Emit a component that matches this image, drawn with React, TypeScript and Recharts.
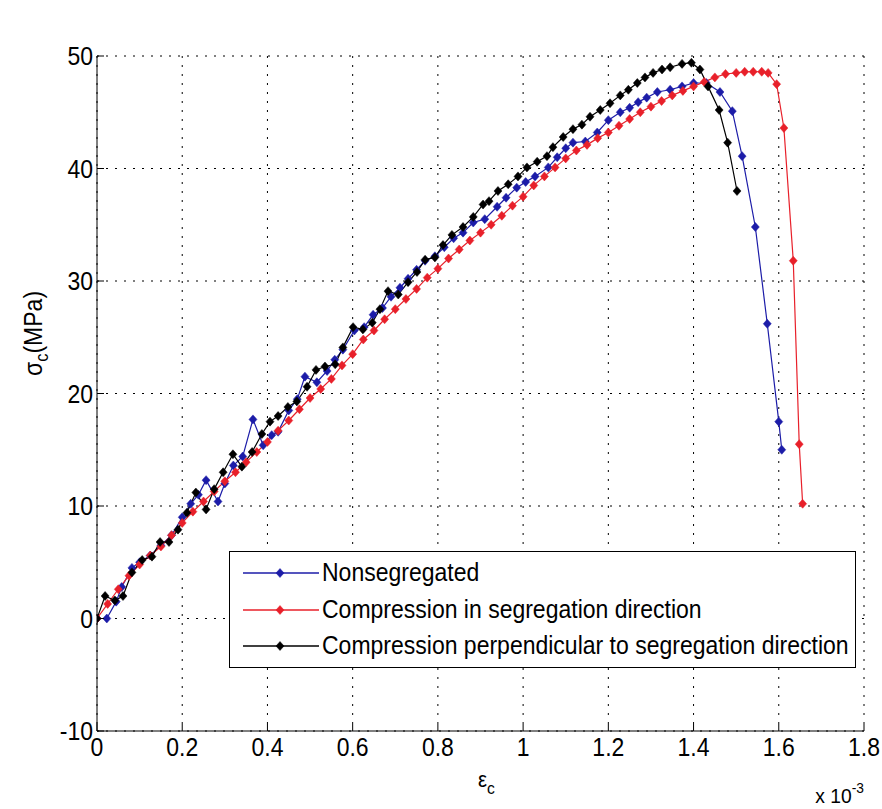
import { LineChart, Line, XAxis, YAxis, CartesianGrid, Legend, Label } from 'recharts'

// strain values are in units of 1e-3, stress in MPa
const nonsegStrain = [
  0, 0.023, 0.045, 0.058, 0.082, 0.1, 0.125, 0.15, 0.175, 0.2, 0.22, 0.238, 0.256, 0.284, 0.3, 0.32,
  0.342, 0.366, 0.39, 0.41, 0.425, 0.45, 0.47, 0.488, 0.516, 0.54, 0.558, 0.577, 0.604, 0.627, 0.648,
  0.67, 0.69, 0.711, 0.73, 0.75, 0.77, 0.793, 0.815, 0.837, 0.859, 0.883, 0.91, 0.939, 0.96, 0.985,
  1.006, 1.028, 1.059, 1.08, 1.1, 1.117, 1.146, 1.174, 1.2, 1.228, 1.25, 1.27, 1.29, 1.315, 1.345,
  1.373, 1.4, 1.43, 1.462, 1.491, 1.514, 1.545, 1.573, 1.6, 1.607,
]
const nonsegStress = [
  0, 0, 1.5, 2.8, 4.5, 5.0, 5.6, 6.5, 7.4, 9.0, 10.2, 11.0, 12.3, 10.4, 12.0, 13.6,
  14.4, 17.7, 15.4, 16.3, 16.6, 18.5, 19.5, 21.5, 21.0, 22.0, 23.0, 23.9, 25.6, 25.9, 27.0,
  27.6, 28.6, 29.4, 30.2, 31.0, 31.8, 32.2, 33.0, 33.8, 34.3, 35.2, 35.5, 36.6, 37.4, 38.3,
  38.8, 39.3, 40.1, 41.0, 41.8, 42.3, 42.4, 43.2, 44.3, 45.0, 45.4, 45.9, 46.3, 46.8, 47.0,
  47.3, 47.6, 47.6, 46.8, 45.1, 41.1, 34.8, 26.2, 17.5, 15.0,
]

const parallelStrain = [
  0, 0.025, 0.05, 0.075, 0.1, 0.125, 0.15, 0.175, 0.2, 0.225, 0.25, 0.275, 0.3, 0.325, 0.35, 0.375,
  0.4, 0.425, 0.45, 0.475, 0.5, 0.525, 0.55, 0.575, 0.6, 0.625, 0.65, 0.675, 0.7, 0.725, 0.75, 0.775,
  0.8, 0.825, 0.85, 0.875, 0.9, 0.925, 0.95, 0.975, 1.0, 1.025, 1.05, 1.075, 1.1, 1.125, 1.15, 1.175,
  1.2, 1.225, 1.25, 1.275, 1.3, 1.325, 1.35, 1.375, 1.4, 1.425, 1.45, 1.475, 1.5, 1.52, 1.54, 1.56,
  1.575, 1.595, 1.612, 1.634, 1.648, 1.656,
]
const parallelStress = [
  0, 1.3, 2.6, 3.8, 4.8, 5.6, 6.4, 7.4, 8.5, 9.5, 10.4, 11.3, 12.2, 13.0, 13.9, 14.8,
  15.7, 16.7, 17.6, 18.6, 19.6, 20.4, 21.3, 22.5, 23.5, 24.8, 25.6, 26.6, 27.5, 28.4, 29.3, 30.3,
  31.1, 32.0, 32.8, 33.6, 34.3, 35.0, 35.8, 36.7, 37.5, 38.5, 39.3, 40.1, 40.9, 41.6, 42.1, 42.7,
  43.2, 43.8, 44.4, 45.0, 45.5, 46.0, 46.5, 46.9, 47.3, 47.7, 48.1, 48.4, 48.5, 48.6, 48.6, 48.6,
  48.5, 47.5, 43.6, 31.8, 15.5, 10.2,
]

const perpStrain = [
  0, 0.019, 0.042, 0.061, 0.082, 0.106, 0.129, 0.148, 0.169, 0.19, 0.211, 0.232, 0.256, 0.275, 0.296,
  0.319, 0.34, 0.364, 0.387, 0.406, 0.425, 0.448, 0.469, 0.493, 0.514, 0.535, 0.559, 0.577, 0.601,
  0.624, 0.646, 0.664, 0.683, 0.707, 0.73, 0.751, 0.77, 0.793, 0.812, 0.833, 0.859, 0.883, 0.906,
  0.92, 0.941, 0.965, 0.988, 1.009, 1.033, 1.056, 1.07, 1.094, 1.117, 1.138, 1.157, 1.181, 1.204,
  1.228, 1.247, 1.268, 1.286, 1.305, 1.326, 1.345, 1.373, 1.395, 1.415, 1.434, 1.46, 1.48, 1.502,
]
const perpStress = [
  0, 2.0, 1.6, 2.0, 4.1, 5.2, 5.5, 6.8, 6.8, 7.9, 9.4, 11.2, 9.7, 11.5, 13.0,
  14.6, 13.5, 14.8, 16.4, 17.5, 18.0, 18.8, 19.3, 20.6, 22.1, 22.4, 22.6, 24.1, 25.9,
  25.7, 26.3, 27.5, 29.1, 28.8, 29.9, 30.8, 31.9, 32.1, 33.2, 34.1, 34.8, 35.7, 36.8,
  37.1, 38.0, 38.6, 39.3, 40.1, 40.6, 41.1, 41.9, 42.8, 43.5, 43.9, 44.6, 45.2, 45.8,
  46.5, 47.0, 47.6, 48.1, 48.5, 48.8, 49.0, 49.3, 49.4, 48.8, 47.3, 45.2, 42.3, 38.0,
]

const seriesNames = [
  'Nonsegregated',
  'Compression in segregation direction',
  'Compression perpendicular to segregation direction',
]
const seriesColors = ['#1c1ca8', '#e8202a', '#000000']

const xTicks = [0, 0.2, 0.4, 0.6, 0.8, 1, 1.2, 1.4, 1.6, 1.8]
const yTicks = [-10, 0, 10, 20, 30, 40, 50]

const toPoints = (xs: number[], ys: number[]) => xs.map((x, i) => ({ strain: x, stress: ys[i] }))
const series = [
  toPoints(nonsegStrain, nonsegStress),
  toPoints(parallelStrain, parallelStress),
  toPoints(perpStrain, perpStress),
]

const FONT = '"Liberation Sans", Arial, Helvetica, sans-serif'
const FONT_SIZE = 25
const SQUEEZE = 0.92
const TICK_LEN = 7

// matlab's text here is tall and a bit narrow, so squeeze it horizontally
function Txt({ x, y, anchor = 'start', size = FONT_SIZE, rotate = 0, children }: any) {
  return (
    <text
      transform={`translate(${x},${y}) rotate(${rotate}) scale(${SQUEEZE},1)`}
      textAnchor={anchor}
      fontFamily={FONT}
      fontSize={size}
      fill="#000"
    >
      {children}
    </text>
  )
}

function Diamond({ cx, cy, color }: { cx: number; cy: number; color: string }) {
  if (cx == null || cy == null) return null
  return (
    <polygon
      points={`${cx},${cy - 4.5} ${cx + 4},${cy} ${cx},${cy + 4.5} ${cx - 4},${cy}`}
      fill={color}
      stroke={color}
      strokeWidth={0.5}
    />
  )
}

function BottomTick({ x, y, payload }: any) {
  return (
    <g>
      <line x1={x} x2={x} y1={y} y2={y - TICK_LEN} stroke="#000" />
      <Txt x={x} y={y + 25} anchor="middle">{String(payload.value)}</Txt>
    </g>
  )
}

function TopTick({ x, y }: any) {
  return <line x1={x} x2={x} y1={y} y2={y + TICK_LEN} stroke="#000" />
}

function LeftTick({ x, y, payload }: any) {
  return (
    <g>
      <line x1={x} x2={x + TICK_LEN} y1={y} y2={y} stroke="#000" />
      <Txt x={x - 4} y={y + 9} anchor="end">{String(payload.value)}</Txt>
    </g>
  )
}

function RightTick({ x, y }: any) {
  return <line x1={x} x2={x - TICK_LEN} y1={y} y2={y} stroke="#000" />
}

function XCaption({ viewBox }: any) {
  const { x, y, width } = viewBox
  return (
    <g>
      <Txt x={x + width / 2 + 6} y={y + 56} anchor="middle" size={22}>
        ε<tspan fontSize={17} dy={7}>c</tspan>
      </Txt>
      <Txt x={x + width} y={y + 72} anchor="end" size={21}>
        x 10<tspan fontSize={15} dy={-10}>-3</tspan>
      </Txt>
    </g>
  )
}

function Title({ viewBox }: any) {
  const { x, y, width } = viewBox
  return (
    <Txt x={x + width / 2} y={y - 25} anchor="middle" size={26}>
      Uniaxial compression: Effect of segregation
    </Txt>
  )
}

function YCaption({ viewBox }: any) {
  const { x, y, height } = viewBox
  return (
    <Txt x={x + 42} y={y + height / 2 - 60} anchor="middle" size={25} rotate={-90}>
      σ<tspan fontSize={18} dy={6}>c</tspan><tspan dy={-6}>(MPa)</tspan>
    </Txt>
  )
}

function LegendBox() {
  const rowY = [21, 58, 94]
  return (
    <div style={{ width: 627, height: 117, border: '1px solid #000', background: '#fff', boxSizing: 'border-box' }}>
      <svg width={625} height={115} style={{ display: 'block' }}>
        {seriesNames.map((name, i) => (
          <g key={name}>
            <line x1={13} x2={89} y1={rowY[i]} y2={rowY[i]} stroke={seriesColors[i]} strokeWidth={1.3} />
            <Diamond cx={50} cy={rowY[i]} color={seriesColors[i]} />
            <Txt x={92} y={rowY[i] + 8}>{name}</Txt>
          </g>
        ))}
      </svg>
    </div>
  )
}

export default function App() {
  return (
    <div style={{ position: 'absolute', left: 0, top: 0, background: '#fff' }}>
      <LineChart width={882} height={809} margin={{ top: 56, right: 18, bottom: 0, left: 0 }}>
        <CartesianGrid stroke="#000" strokeDasharray="2 7" strokeWidth={1} horizontalValues={yTicks} verticalValues={xTicks} />
        <XAxis
          dataKey="strain"
          type="number"
          domain={[0, 1.8]}
          ticks={xTicks}
          interval={0}
          height={78}
          tickSize={0}
          tickMargin={0}
          tickLine={false}
          axisLine={{ stroke: '#000' }}
          tick={<BottomTick />}
          allowDataOverflow
        >
          <Label content={<XCaption />} />
        </XAxis>
        <XAxis
          xAxisId="top"
          orientation="top"
          type="number"
          domain={[0, 1.8]}
          ticks={xTicks}
          interval={0}
          height={0}
          tickSize={0}
          tickMargin={0}
          tickLine={false}
          axisLine={{ stroke: '#000' }}
          tick={<TopTick />}
          allowDataOverflow
        >
          <Label content={<Title />} />
        </XAxis>
        <YAxis
          dataKey="stress"
          type="number"
          domain={[-10, 50]}
          ticks={yTicks}
          interval={0}
          width={97}
          tickSize={0}
          tickMargin={0}
          tickLine={false}
          axisLine={{ stroke: '#000' }}
          tick={<LeftTick />}
          allowDataOverflow
        >
          <Label content={<YCaption />} />
        </YAxis>
        <YAxis
          yAxisId="right"
          orientation="right"
          type="number"
          domain={[-10, 50]}
          ticks={yTicks}
          interval={0}
          width={0}
          tickSize={0}
          tickMargin={0}
          tickLine={false}
          axisLine={{ stroke: '#000' }}
          tick={<RightTick />}
          allowDataOverflow
        />
        {series.map((data, i) => (
          <Line
            key={seriesNames[i]}
            data={data}
            dataKey="stress"
            name={seriesNames[i]}
            type="linear"
            stroke={seriesColors[i]}
            strokeWidth={1.2}
            isAnimationActive={false}
            dot={(p: any) => <Diamond key={p.index} cx={p.cx} cy={p.cy} color={seriesColors[i]} />}
            activeDot={false}
          />
        ))}
        <Legend
          layout="vertical"
          align="center"
          verticalAlign="middle"
          content={<LegendBox />}
          wrapperStyle={{ left: 229, top: 551, width: 627, height: 117 }}
        />
      </LineChart>
    </div>
  )
}
